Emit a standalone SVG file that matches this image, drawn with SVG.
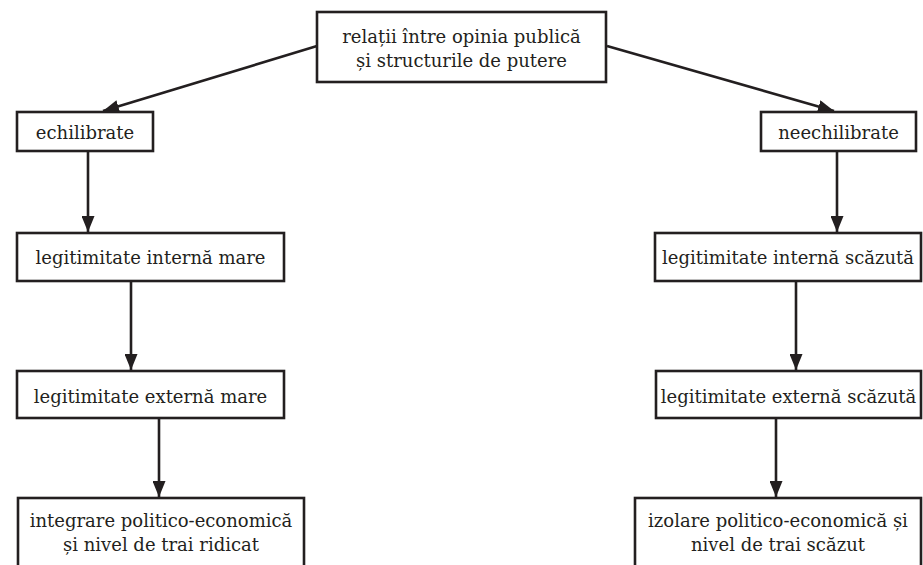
<svg xmlns="http://www.w3.org/2000/svg" width="923" height="565" viewBox="0 0 923 565">
<style>
.box{fill:#fff;stroke:#231f20;stroke-width:2.6}
.t{font-family:"DejaVu Serif","Liberation Serif",serif;font-size:18px;fill:#231f20;text-anchor:middle}
.c{fill:none;stroke:#231f20;stroke-width:2.6}
</style>
<defs>
<marker id="ah" viewBox="0 0 16 13" refX="16" refY="6.5" markerWidth="16" markerHeight="13" markerUnits="userSpaceOnUse" orient="auto">
<path d="M0,0 L16,6.5 L0,13 z" fill="#231f20"/>
</marker>
</defs>
<rect width="923" height="565" fill="#fff"/>
<g id="connectors">
<path class="c" d="M317,46 L103,111" marker-end="url(#ah)"/>
<path class="c" d="M607,46 L834,111" marker-end="url(#ah)"/>
<path class="c" d="M88,151 L88,232" marker-end="url(#ah)"/>
<path class="c" d="M131,281 L131,370" marker-end="url(#ah)"/>
<path class="c" d="M159,418 L159,497" marker-end="url(#ah)"/>
<path class="c" d="M837,151 L837,232" marker-end="url(#ah)"/>
<path class="c" d="M796,281 L796,370" marker-end="url(#ah)"/>
<path class="c" d="M776,418 L776,497" marker-end="url(#ah)"/>
</g>
<g id="root">
<rect class="box" x="317" y="12" width="289" height="70"/>
<text class="t" x="461.5" y="43">relații între opinia publică</text>
<text class="t" x="461.5" y="67">și structurile de putere</text>
</g>
<g id="echilibrate">
<rect class="box" x="17" y="112" width="136" height="39"/>
<text class="t" x="85" y="139">echilibrate</text>
</g>
<g id="neechilibrate">
<rect class="box" x="761" y="112" width="155" height="39"/>
<text class="t" x="838.5" y="139">neechilibrate</text>
</g>
<g id="intern-mare">
<rect class="box" x="17" y="233" width="267" height="48"/>
<text class="t" x="150.5" y="264">legitimitate internă mare</text>
</g>
<g id="intern-scazuta">
<rect class="box" x="655" y="233" width="266" height="48"/>
<text class="t" x="788" y="264">legitimitate internă scăzută</text>
</g>
<g id="extern-mare">
<rect class="box" x="17" y="371" width="267" height="47"/>
<text class="t" x="150.5" y="403">legitimitate externă mare</text>
</g>
<g id="extern-scazuta">
<rect class="box" x="656" y="371" width="265" height="47"/>
<text class="t" x="788.5" y="403">legitimitate externă scăzută</text>
</g>
<g id="integrare">
<rect class="box" x="18" y="498" width="286" height="80"/>
<text class="t" x="161" y="527">integrare politico-economică</text>
<text class="t" x="161" y="551">și nivel de trai ridicat</text>
</g>
<g id="izolare">
<rect class="box" x="635" y="498" width="286" height="80"/>
<text class="t" x="778" y="527">izolare politico-economică și</text>
<text class="t" x="778" y="551">nivel de trai scăzut</text>
</g>
</svg>
